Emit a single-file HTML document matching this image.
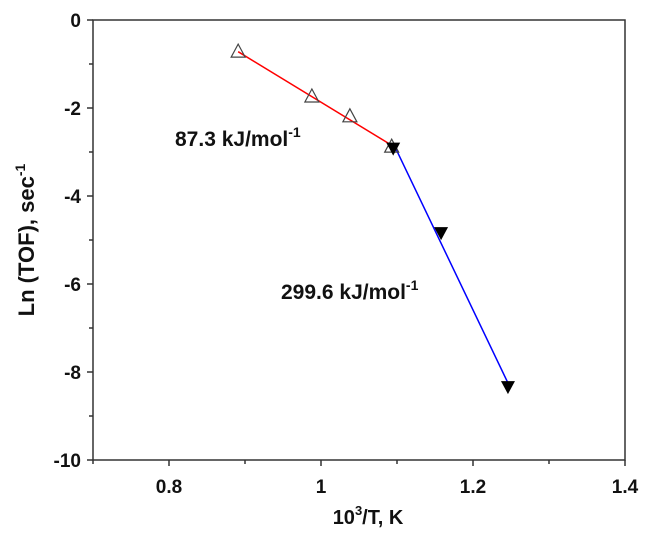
<!DOCTYPE html>
<html><head><meta charset="utf-8"><style>
html,body{margin:0;padding:0;background:#fff;}
svg{display:block;font-family:"Liberation Sans",Arial,sans-serif;font-weight:bold;}
</style></head><body>
<svg id="chart" width="648" height="536" viewBox="0 0 648 536" xmlns="http://www.w3.org/2000/svg"></svg>
<script>
const openX = [0.891, 0.988, 1.038, 1.093];
const openY = [-0.73, -1.75, -2.2, -2.89];
const filledX = [1.095, 1.158, 1.246];
const filledY = [-2.9, -4.82, -8.32];
const redFitX = [0.891, 1.098];
const redFitY = [-0.72, -2.9];
const blueFitX = [1.095, 1.246];
const blueFitY = [-2.8, -8.25];
const xTicks = [0.8, 1, 1.2, 1.4];
const xTickLabels = ["0.8", "1", "1.2", "1.4"];
const xMinor = [0.7, 0.9, 1.1, 1.3];
const yTicks = [0, -2, -4, -6, -8, -10];
const yTickLabels = ["0", "-2", "-4", "-6", "-8", "-10"];
const yMinor = [-1, -3, -5, -7, -9];

const L=93,R=625,T=20,B=460;
const xs=v=>L+(v-0.7)/0.7*(R-L);
const ys=v=>T+(0-v)/10*(B-T);
const svg=document.getElementById('chart');
const NS='http://www.w3.org/2000/svg';
function mk(tag,attrs,parent){const e=document.createElementNS(NS,tag);for(const k in attrs)e.setAttribute(k,attrs[k]);(parent||svg).appendChild(e);return e;}

const frame=mk('rect',{x:L,y:T,width:R-L,height:B-T,fill:'none',stroke:'#333','stroke-width':1.5});



xTicks.forEach((v,i)=>{
  const t=mk('line',{x1:xs(v),x2:xs(v),y1:B,y2:B+6,stroke:'#333','stroke-width':1.5});
  
  
  const lb=mk('text',{x:xs(v),y:493,'text-anchor':'middle','font-size':19,fill:'#111'});
  lb.textContent=xTickLabels[i];
  
  
});
xMinor.forEach(v=>{
  const t=mk('line',{x1:xs(v),x2:xs(v),y1:B,y2:B+4,stroke:'#333','stroke-width':1.5});
  
  
});
yTicks.forEach((v,i)=>{
  const t=mk('line',{x1:L-6,x2:L,y1:ys(v),y2:ys(v),stroke:'#333','stroke-width':1.5});
  
  
  const lb=mk('text',{x:81,y:ys(v)+7,'text-anchor':'end','font-size':19,fill:'#111'});
  lb.textContent=yTickLabels[i];
  
  
});
yMinor.forEach(v=>{
  const t=mk('line',{x1:L-4,x2:L,y1:ys(v),y2:ys(v),stroke:'#333','stroke-width':1.5});
  
  
});

const red=mk('line',{x1:xs(redFitX[0]),y1:ys(redFitY[0]),x2:xs(redFitX[1]),y2:ys(redFitY[1]),stroke:'#ff0000','stroke-width':1.5});


const blue=mk('line',{x1:xs(blueFitX[0]),y1:ys(blueFitY[0]),x2:xs(blueFitX[1]),y2:ys(blueFitY[1]),stroke:'#0000ff','stroke-width':1.5});



openX.forEach((v,i)=>{
  const cx=xs(v),cy=ys(openY[i]);
  const p=mk('polygon',{points:`${cx},${cy-8} ${cx-7},${cy+5} ${cx+7},${cy+5}`,fill:'none',stroke:'#444','stroke-width':1.2});
  
  
});
filledX.forEach((v,i)=>{
  const cx=xs(v),cy=ys(filledY[i]);
  const p=mk('polygon',{points:`${cx-7},${cy-5} ${cx+7},${cy-5} ${cx},${cy+8}`,fill:'#000'});
  
  
});

function ann(x,y,txt,name){
  const t=mk('text',{x:x,y:y,'font-size':21,fill:'#111'});
  t.textContent=txt;
  const s=mk('tspan',{dy:-9,'font-size':14},t);
  s.textContent='-1';
  
  
}
ann(175,146,'87.3 kJ/mol','low-temp-energy-label');
ann(281,299,'299.6 kJ/mol','high-temp-energy-label');

const xt=mk('text',{x:368,y:524,'text-anchor':'middle','font-size':20,fill:'#111'});
xt.textContent='10';
const sup=mk('tspan',{dy:-9,'font-size':13},xt);sup.textContent='3';
const rest=mk('tspan',{dy:9},xt);rest.textContent='/T, K';



const yt=mk('text',{x:0,y:0,'text-anchor':'middle','font-size':22,fill:'#111',transform:`translate(34,${(T+B)/2}) rotate(-90)`});
yt.textContent='Ln (TOF), sec';
const ys2=mk('tspan',{dy:-9,'font-size':14},yt);ys2.textContent='-1';


</script>
</body></html>
